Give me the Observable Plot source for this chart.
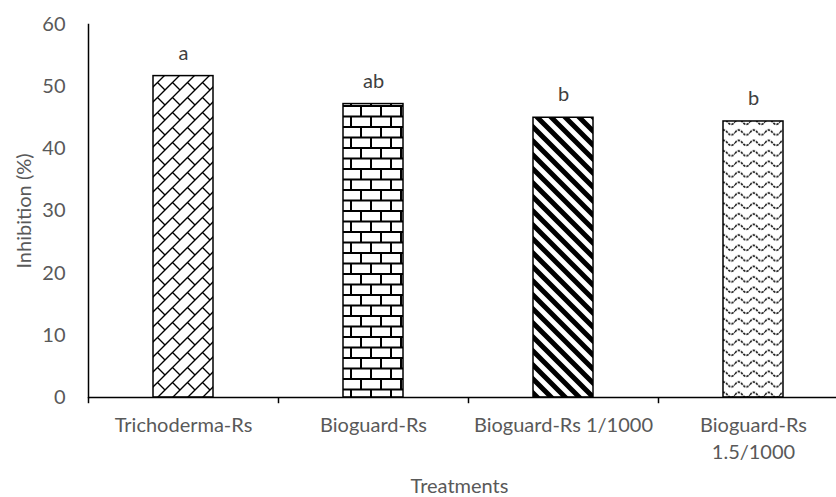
<!DOCTYPE html>
<html>
<head>
<meta charset="utf-8">
<script src="https://cdn.jsdelivr.net/npm/d3@7"></script>
<script src="https://cdn.jsdelivr.net/npm/@observablehq/plot@0.6"></script>
<style>
  html, body { margin: 0; padding: 0; background: #fff; overflow: hidden; }
  #chart svg { max-width: none !important; height: 497px !important; }
</style>
</head>
<body>
<div id="chart"></div>
<script>
const categories = ["Trichoderma-Rs", "Bioguard-Rs", "Bioguard-Rs 1/1000", "Bioguard-Rs 1.5/1000"];
const tickLabels = ["Trichoderma-Rs", "Bioguard-Rs", "Bioguard-Rs 1/1000", "Bioguard-Rs\n1.5/1000"];
const values = [51.7, 47.2, 45.0, 44.4];
const letters = ["a", "ab", "b", "b"];
const patternIds = ["diagBrick", "hBrick", "wideDown", "wave"];
const yTicks = [0, 10, 20, 30, 40, 50, 60];

const data = categories.map((c, i) => ({
  category: c, value: values[i], letter: letters[i], fill: `url(#${patternIds[i]})`
}));

const textColor = "#595959";

const svg = Plot.plot({
  width: 848,
  height: 497,
  marginLeft: 88,
  marginRight: 0,
  marginTop: 24,
  marginBottom: 100,
  style: { fontFamily: "Lato, sans-serif", fontSize: "20px", background: "#fff", maxWidth: "none" },
  x: { domain: categories, paddingInner: 0.684, paddingOuter: 0.342 },
  y: { domain: [0, 60] },
  color: { type: "identity" },
  marks: [
    Plot.barY(data, { x: "category", y: "value", fill: "fill", stroke: "#000", strokeWidth: 1.5 }),
    Plot.ruleY([0], { stroke: "#000", strokeWidth: 1.5 }),
    Plot.frame({ anchor: "left", stroke: "#000", strokeWidth: 1.5 }),
    Plot.ruleX(categories, { x: d => d, dx: -95, y1: 0, y2: -1, stroke: "#000", strokeWidth: 1.5 }),
    Plot.text(data, { x: "category", y: "value", text: "letter", lineAnchor: "bottom", dy: -16.5, fill: "#404040", fontSize: 20 }),
    Plot.axisY({ ticks: yTicks, tickSize: 0, tickPadding: 23, label: null, color: textColor, fontSize: 20 }),
    Plot.axisX({ tickSize: 0, tickPadding: 15, lineHeight: 1.35, label: null, color: textColor, fontSize: 20,
      tickFormat: d => tickLabels[categories.indexOf(d)] }),
    Plot.text(["Inhibition (%)"], { frameAnchor: "left", text: d => d, rotate: -90, dx: -64, textAnchor: "middle", lineAnchor: "middle", fill: textColor, fontSize: 20 }),
    Plot.text(["Treatments"], { frameAnchor: "bottom-left", text: d => d, dx: 371, dy: 89, textAnchor: "middle", lineAnchor: "middle", fill: textColor, fontSize: 20 })
  ]
});

const defs = d3.select(svg).insert("defs", ":first-child");
// diagonal brick
let p = defs.append("pattern").attr("id", "diagBrick").attr("patternUnits", "userSpaceOnUse").attr("width", 15).attr("height", 15);
p.append("rect").attr("width", 15).attr("height", 15).attr("fill", "#fff");
p.append("path").attr("d", "M0,15 L15,0 M-2,2 L2,-2 M13,17 L17,13 M7.5,7.5 L15,15").attr("stroke", "#000").attr("stroke-width", 1.4).attr("fill", "none");
// horizontal brick
p = defs.append("pattern").attr("id", "hBrick").attr("patternUnits", "userSpaceOnUse").attr("width", 20).attr("height", 21);
p.append("rect").attr("width", 20).attr("height", 21).attr("fill", "#fff");
p.append("path").attr("d", "M0,1 H20 M0,11.5 H20 M1,1 V11.5 M11,11.5 V22").attr("stroke", "#000").attr("stroke-width", 2).attr("fill", "none");
// wide downward diagonal
p = defs.append("pattern").attr("id", "wideDown").attr("patternUnits", "userSpaceOnUse").attr("width", 14).attr("height", 14);
p.append("rect").attr("width", 14).attr("height", 14).attr("fill", "#fff");
p.append("path").attr("d", "M-2,-2 L16,16 M-8,6 L8,22 M6,-8 L22,8").attr("stroke", "#000").attr("stroke-width", 5).attr("fill", "none");
// wave
p = defs.append("pattern").attr("id", "wave").attr("patternUnits", "userSpaceOnUse").attr("width", 15).attr("height", 10.5);
p.append("rect").attr("width", 15).attr("height", 10.5).attr("fill", "#fff");
p.append("path").attr("d", "M0,6.5 Q3.75,1.5 7.5,6.5 T15,6.5").attr("stroke", "#111").attr("stroke-width", 1.6).attr("fill", "none").attr("stroke-dasharray", "2.5,1");

document.getElementById("chart").appendChild(svg);
</script>
</body>
</html>
